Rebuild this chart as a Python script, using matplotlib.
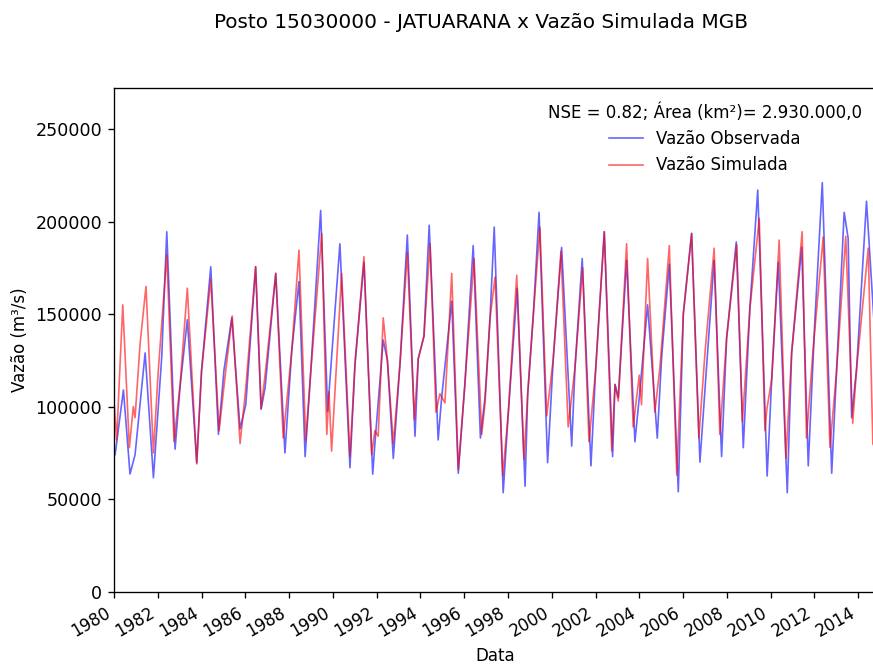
import matplotlib
matplotlib.use("Agg")
import matplotlib.pyplot as plt
import matplotlib.dates as mdates
import pandas as pd

# ---- data (decimal years, discharge in m3/s) ----
obs_t = [1980.00, 1980.05, 1980.43, 1980.73, 1980.96, 1981.42, 1981.80, 1982.18, 1982.41, 1982.79,
         1983.02, 1983.35, 1983.78, 1984.00, 1984.42, 1984.77, 1985.02, 1985.38, 1985.76, 1986.02,
         1986.47, 1986.72, 1986.90, 1987.39, 1987.81, 1988.12, 1988.45, 1988.73, 1988.95, 1989.44,
         1989.76, 1990.32, 1990.78, 1991.01, 1991.42, 1991.82, 1991.92, 1992.30, 1992.49, 1992.76,
         1993.07, 1993.40, 1993.75, 1993.90, 1994.16, 1994.40, 1994.81, 1994.97, 1995.43, 1995.73,
         1996.03, 1996.41, 1996.74, 1996.95, 1997.18, 1997.37, 1997.78, 1998.01, 1998.42, 1998.78,
         1998.90, 1999.16, 1999.42, 1999.81, 2000.07, 2000.45, 2000.91, 2001.06, 2001.39, 2001.79,
         2002.00, 2002.40, 2002.78, 2002.89, 2003.04, 2003.42, 2003.80, 2004.00, 2004.38, 2004.82,
         2005.02, 2005.37, 2005.78, 2006.01, 2006.39, 2006.77, 2007.04, 2007.42, 2007.76, 2007.99,
         2008.43, 2008.75, 2009.05, 2009.41, 2009.84, 2010.05, 2010.35, 2010.76, 2010.96, 2011.42,
         2011.72, 2012.02, 2012.36, 2012.79, 2013.01, 2013.36, 2013.54, 2013.70, 2013.93, 2014.38,
         2014.86]
obs_q = [76, 74, 109, 63.6, 74, 129, 61.6, 127, 194.5, 77,
         111, 147, 69.7, 119.5, 175.6, 85, 119.5, 148, 88, 101,
         175.6, 98.6, 110, 172, 75, 130, 167.6, 73, 112, 206,
         97.5, 188, 67, 123, 178, 63.5, 80, 136, 125, 72,
         124, 192.7, 84, 126, 138, 198, 82, 105, 157, 64,
         112, 187, 83, 105, 148, 197, 53.5, 96, 164, 57,
         106.6, 150, 205, 69.7, 126, 186, 78.7, 121, 180, 68,
         119, 194.5, 73, 112, 105, 179, 81, 105, 155, 83,
         127, 177, 54, 150, 193.6, 70, 116, 179, 73, 137,
         189, 77.8, 153, 217, 62.5, 115, 178, 53.5, 129, 186,
         68, 146, 221, 64, 119, 205, 191, 94, 121, 211,
         120]

sim_t = [1980.00, 1980.12, 1980.40, 1980.70, 1980.88, 1980.96, 1981.19, 1981.46, 1981.80, 1982.02,
         1982.41, 1982.74, 1983.02, 1983.35, 1983.78, 1984.00, 1984.42, 1984.80, 1985.07, 1985.40,
         1985.76, 1986.02, 1986.47, 1986.72, 1986.93, 1987.39, 1987.73, 1988.12, 1988.45, 1988.76,
         1988.95, 1989.49, 1989.72, 1989.82, 1989.94, 1990.40, 1990.78, 1991.01, 1991.42, 1991.77,
         1991.92, 1992.07, 1992.30, 1992.49, 1992.76, 1993.07, 1993.40, 1993.72, 1993.90, 1994.16,
         1994.44, 1994.71, 1994.89, 1995.12, 1995.43, 1995.73, 1996.03, 1996.45, 1996.80, 1996.95,
         1997.18, 1997.41, 1997.76, 1998.01, 1998.40, 1998.73, 1998.90, 1999.16, 1999.46, 1999.77,
         2000.07, 2000.42, 2000.75, 2001.06, 2001.41, 2001.70, 2002.00, 2002.40, 2002.74, 2002.89,
         2003.04, 2003.42, 2003.72, 2004.00, 2004.10, 2004.38, 2004.71, 2004.94, 2005.37, 2005.71,
         2006.01, 2006.39, 2006.72, 2007.00, 2007.42, 2007.68, 2007.99, 2008.45, 2008.71, 2009.05,
         2009.48, 2009.74, 2009.82, 2010.05, 2010.39, 2010.70, 2010.96, 2011.44, 2011.64, 2011.94,
         2012.40, 2012.71, 2013.01, 2013.43, 2013.75, 2013.93, 2014.46, 2014.67, 2014.86]
sim_q = [103, 82, 155, 77.8, 100, 94, 134, 165, 75, 119,
         182, 81, 112, 164, 69, 119, 168.6, 87, 116, 149,
         80, 110, 175.6, 99, 120, 172, 83, 130, 184.6, 82,
         113, 193.6, 85, 108, 76, 172, 73, 123, 181, 74,
         87, 84, 148, 125, 80, 124, 183, 93, 126, 138,
         188, 97, 107, 102, 172, 66, 112, 180, 85, 102,
         148, 170, 63, 96, 171, 71.5, 106.6, 150, 197, 95,
         126, 184, 89, 121, 175, 81, 119, 194.5, 76, 112,
         103, 188, 89, 117, 101, 180, 97, 121, 187, 63,
         150, 193.6, 83, 129, 185.6, 85, 137, 187.5, 92, 153,
         201.7, 87, 98, 115, 190, 72, 129, 194.5, 83, 131,
         191.6, 78, 119, 192, 91, 121, 185.6, 80, 75]

title = "Posto 15030000 - JATUARANA x Vazão Simulada MGB"
legend_title = "NSE = 0.82; Área (km²)= 2.930.000,0"
labels = ["Vazão Observada", "Vazão Simulada"]


def dec2dt(y):
    yr = int(y)
    start = pd.Timestamp(yr, 1, 1)
    end = pd.Timestamp(yr + 1, 1, 1)
    return start + (end - start) * (y - yr)


obs_dates = [dec2dt(v) for v in obs_t]
sim_dates = [dec2dt(v) for v in sim_t]
obs_vals = [v * 1000 for v in obs_q]
sim_vals = [v * 1000 for v in sim_q]

W, H, DPI = 873, 664, 120
fig = plt.figure(figsize=(W / DPI, H / DPI), dpi=DPI)
ax = fig.add_axes([114 / W, (H - 591.7) / H, (877 - 114) / W, (591.7 - 88.3) / H])

ax.plot(obs_dates, obs_vals, color="blue", lw=1.0, alpha=0.6, label=labels[0])
ax.plot(sim_dates, sim_vals, color="red", lw=1.0, alpha=0.6, label=labels[1])

ax.set_xlim(dec2dt(1980.0), dec2dt(2014.86))
ax.set_ylim(0, 272000)
ax.set_yticks([0, 50000, 100000, 150000, 200000, 250000])
ax.tick_params(axis="y", labelsize=10.5)
ax.xaxis.set_major_locator(mdates.YearLocator(2))
ax.xaxis.set_major_formatter(mdates.DateFormatter("%Y"))
for lbl in ax.get_xticklabels():
    lbl.set_rotation(30)
    lbl.set_ha("right")

ax.set_xlabel("Data")
ax.set_ylabel("Vazão (m³/s)")
ax.legend(title=legend_title, loc="upper right", frameon=False)

fig.text(481 / W, 1 - 22 / H, title, ha="center", va="center", fontsize=12)

fig.savefig("out.png", dpi=DPI)
